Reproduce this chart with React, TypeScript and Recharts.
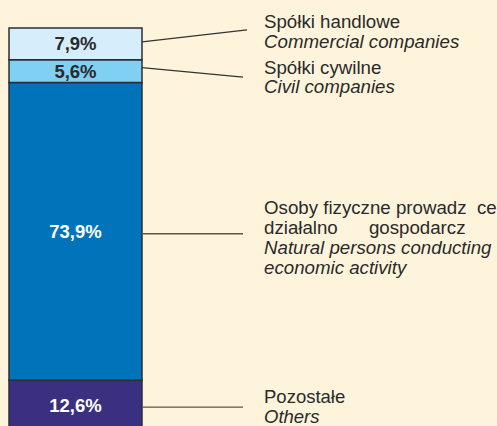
import React from 'react';
import { BarChart, Bar, XAxis, YAxis, LabelList } from 'recharts';

// Data
const categories = ['Podmioty'];
const seriesKeys = ['pozostale', 'osoby', 'cywilne', 'handlowe'];
const seriesValues = [12.6, 73.9, 5.6, 7.9];
const valueLabels = ['12,6%', '73,9%', '5,6%', '7,9%'];
const seriesNamesPl = [
  ['Pozostałe'],
  ['Osoby fizyczne prowadz  ce', 'działalno      gospodarcz'],
  ['Spółki cywilne'],
  ['Spółki handlowe'],
];
const seriesNamesEn = [
  ['Others'],
  ['Natural persons conducting', 'economic activity'],
  ['Civil companies'],
  ['Commercial companies'],
];

// Styles
const fills = ['#3A2F80', '#0073BB', '#80D0F4', '#D6EEFC'];
const labelFills = ['#FFFFFF', '#FFFFFF', '#2A2A2A', '#2A2A2A'];
const leaderStyle = [
  { startDy: 1.5, endDy: 1.5, endX: 243, textDy: -2.5, lh: 19.5, fs: 18.5, color: '#5e544a' },
  { startDy: 2.5, endDy: 2.5, endX: 243, textDy: -17.5, lh: 20, fs: 18.7, color: '#5e544a' },
  { startDy: -3.5, endDy: 6, endX: 243, textDy: 2.5, lh: 19.5, fs: 18.7, color: '#333333' },
  { startDy: -2, endDy: -14, endX: 247, textDy: -16, lh: 20, fs: 18.7, color: '#333333' },
];
const TEXT_X = 264;
const FONT = '"Liberation Sans", Arial, Helvetica, sans-serif';

const data = categories.map((c) => {
  const row: Record<string, string | number> = { name: c };
  seriesKeys.forEach((k, i) => {
    row[k] = seriesValues[i];
  });
  return row;
});

const makeContent = (i: number) => (props: any) => {
  const x = Number(props.x);
  const y = Number(props.y);
  const w = Number(props.width);
  const h = Number(props.height);
  const cy = y + h / 2;
  const st = leaderStyle[i];
  const lines = [
    ...seriesNamesPl[i].map((t) => ({ t, it: false })),
    ...seriesNamesEn[i].map((t) => ({ t, it: true })),
  ];
  return (
    <g>
      <text
        x={x + w / 2}
        y={cy}
        textAnchor="middle"
        dominantBaseline="central"
        fill={labelFills[i]}
        fontFamily={FONT}
        fontWeight="bold"
        fontSize={18.5}
      >
        {valueLabels[i]}
      </text>
      <line
        x1={x + w}
        y1={cy + st.startDy}
        x2={st.endX}
        y2={cy + st.endDy}
        stroke={st.color}
        strokeWidth={1.4}
      />
      <text fontFamily={FONT} fontSize={st.fs} fill="#2A2A2A" style={{ whiteSpace: 'pre' }}>
        {lines.map((l, j) => (
          <tspan
            key={j}
            x={TEXT_X}
            y={cy + st.textDy + j * st.lh}
            fontStyle={l.it ? 'italic' : 'normal'}
          >
            {l.t}
          </tspan>
        ))}
      </text>
    </g>
  );
};

export default function App() {
  return (
    <div
      style={{
        position: 'absolute',
        left: 0,
        top: 0,
        width: 497,
        height: 426,
        overflow: 'hidden',
        background: '#FEF4DC',
      }}
    >
      <BarChart
        width={497}
        height={436}
        data={data}
        margin={{ top: 28, right: 355, bottom: 5, left: 9 }}
        barCategoryGap={0}
      >
        <XAxis dataKey="name" hide />
        <YAxis hide domain={[0, 100]} />
        {seriesKeys.map((k, i) => (
          <Bar
            key={k}
            dataKey={k}
            stackId="a"
            fill={fills[i]}
            stroke="#2d2d35"
            strokeWidth={1.5}
            isAnimationActive={false}
          >
            <LabelList dataKey={k} content={makeContent(i)} />
          </Bar>
        ))}
      </BarChart>
    </div>
  );
}
